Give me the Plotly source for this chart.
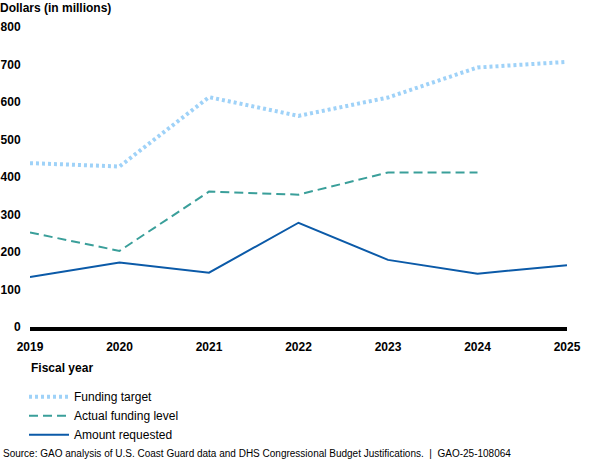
import plotly.graph_objects as go

# Data (dollars in millions)
years = [2019, 2020, 2021, 2022, 2023, 2024, 2025]
funding_target = [437, 428, 613, 563, 612, 692, 707]
actual_funding = [252, 203, 361, 353, 412, 412, None]
amount_requested = [133, 172, 145, 278, 179, 142, 165]
y_ticks = [0, 100, 200, 300, 400, 500, 600, 700, 800]

FONT = "Liberation Sans, Arial, sans-serif"
C_TARGET = "#9fd2f8"
C_ACTUAL = "#3a9f9a"
C_REQUEST = "#0b5aa8"

fig = go.Figure()

fig.add_trace(go.Scatter(
    x=years, y=funding_target, mode="lines", name="Funding target",
    line=dict(color=C_TARGET, width=4, dash="3px,3px"),
))
fig.add_trace(go.Scatter(
    x=years, y=actual_funding, mode="lines", name="Actual funding level",
    line=dict(color=C_ACTUAL, width=2, dash="9px,5px"),
))
fig.add_trace(go.Scatter(
    x=years, y=amount_requested, mode="lines", name="Amount requested",
    line=dict(color=C_REQUEST, width=2),
))

fig.update_layout(
    width=600, height=463,
    margin=dict(l=30, r=33, t=27, b=136),
    paper_bgcolor="white", plot_bgcolor="white",
    font=dict(family=FONT, size=12, color="black"),
    showlegend=True,
    legend=dict(
        x=-6 / 537, xanchor="left", y=-0.184, yanchor="top",
        orientation="v", itemwidth=40, tracegroupgap=0,
        font=dict(family=FONT, size=12, color="black"),
        bgcolor="rgba(0,0,0,0)",
    ),
    xaxis=dict(
        range=[2019, 2025], tickvals=years, ticktext=[str(y) for y in years],
        showgrid=False, zeroline=False, automargin=False,
        showline=True, linecolor="black", linewidth=4,
        ticks="outside", ticklen=6, tickcolor="rgba(0,0,0,0)",
        tickfont=dict(family=FONT, size=12, color="black", weight="bold"),
    ),
    yaxis=dict(
        range=[0, 800], tickvals=y_ticks, automargin=False,
        showgrid=False, zeroline=False, showline=False,
        ticks="outside", ticklen=6, tickcolor="rgba(0,0,0,0)",
        tickfont=dict(family=FONT, size=12, color="black", weight="bold"),
    ),
    annotations=[
        dict(text="<b>Dollars (in millions)</b>", xref="paper", yref="paper",
             x=-32 / 537, y=1, yshift=19, xanchor="left", yanchor="middle",
             showarrow=False, font=dict(family=FONT, size=12, color="black")),
        dict(text="<b>Fiscal year</b>", xref="paper", yref="paper",
             x=-1 / 537, y=0, yshift=-(368 - 327), xanchor="left", yanchor="middle",
             showarrow=False, font=dict(family=FONT, size=12, color="black")),
        dict(text="Source: GAO analysis of U.S. Coast Guard data and DHS Congressional "
                  "Budget Justifications.  |  GAO-25-108064",
             xref="paper", yref="paper",
             x=-29 / 537, y=0, yshift=-(453 - 327), xanchor="left", yanchor="middle",
             showarrow=False, font=dict(family=FONT, size=10, color="black")),
    ],
)

# drop the default 8px body margin so the figure sits at the page corner
fig.write_html(
    "out.html",
    config={"displayModeBar": False},
    post_script="document.body.style.margin='0';",
)
